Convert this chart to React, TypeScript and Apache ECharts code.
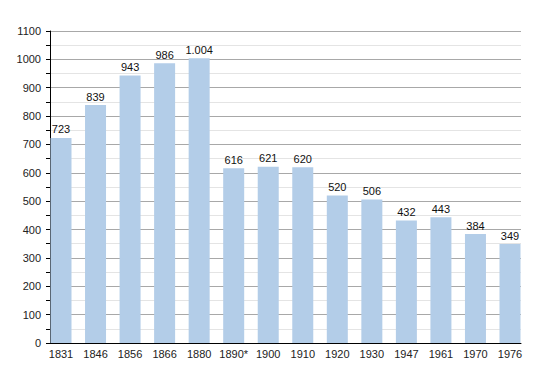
import React, { useEffect, useRef } from "react";
import * as echarts from "echarts";

const categories = ["1831", "1846", "1856", "1866", "1880", "1890*", "1900", "1910", "1920", "1930", "1947", "1961", "1970", "1976"];
const population = [723, 839, 943, 986, 1004, 616, 621, 620, 520, 506, 432, 443, 384, 349];
const yMin = 0;
const yMax = 1100;
const yInterval = 100;

const FONT = "'Liberation Sans', Arial, sans-serif";

function fmt(v: number): string {
  return String(v).replace(/\B(?=(\d{3})+(?!\d))/g, ".");
}

export default function App() {
  const ref = useRef<HTMLDivElement>(null);
  useEffect(() => {
    if (!ref.current) return;
    const chart = echarts.init(ref.current, undefined, { renderer: "svg" });
    chart.setOption({
      animation: false,
      backgroundColor: "#ffffff",
      textStyle: { fontFamily: FONT },
      grid: [
        { left: 50, right: 29, top: 31, bottom: 30, containLabel: false },
        { left: 61, right: 40, top: 31, bottom: 30, containLabel: false },
      ],
      xAxis: [
        {
          gridIndex: 0,
          type: "category",
          data: categories,
          axisLine: { show: true, lineStyle: { color: "#000", width: 1 } },
          axisTick: { show: false },
          axisLabel: { show: false },
          splitLine: { show: false },
        },
        {
          gridIndex: 1,
          type: "category",
          data: categories,
          boundaryGap: false,
          axisLine: { show: false },
          axisTick: { show: false },
          axisLabel: { show: true, color: "#222", fontSize: 11, margin: 5, fontFamily: FONT, interval: 0 },
          splitLine: { show: false },
        },
      ],
      yAxis: [
        {
          gridIndex: 0,
          type: "value",
          min: yMin,
          max: yMax,
          interval: yInterval,
          axisLine: { show: true, lineStyle: { color: "#000", width: 1 } },
          axisTick: { show: true, length: 4, lineStyle: { color: "#000" } },
          minorTick: { show: true, splitNumber: 2, length: 4, lineStyle: { color: "#000" } },
          axisLabel: {
            show: true,
            color: "#222",
            fontSize: 11,
            margin: 9,
            fontFamily: FONT,
            formatter: (v: number) => String(v),
          },
          splitLine: { show: true, lineStyle: { color: "#a8a8a8", width: 1 } },
          minorSplitLine: { show: true, lineStyle: { color: "#e4e4e4", width: 1 } },
        },
        {
          gridIndex: 1,
          type: "value",
          min: yMin,
          max: yMax,
          interval: yInterval,
          show: false,
          splitLine: { show: false },
        },
      ],
      series: [
        {
          type: "bar",
          xAxisIndex: 1,
          yAxisIndex: 1,
          data: population,
          barWidth: 21,
          itemStyle: { color: "#b3cde8" },
          label: {
            show: true,
            position: "top",
            distance: 3,
            color: "#111",
            fontSize: 11,
            fontFamily: FONT,
            formatter: (p: any) => fmt(p.value),
          },
        },
      ],
    });
    return () => chart.dispose();
  }, []);
  return (
    <div
      ref={ref}
      style={{ position: "absolute", left: 0, top: 0, width: 550, height: 373 }}
    />
  );
}
